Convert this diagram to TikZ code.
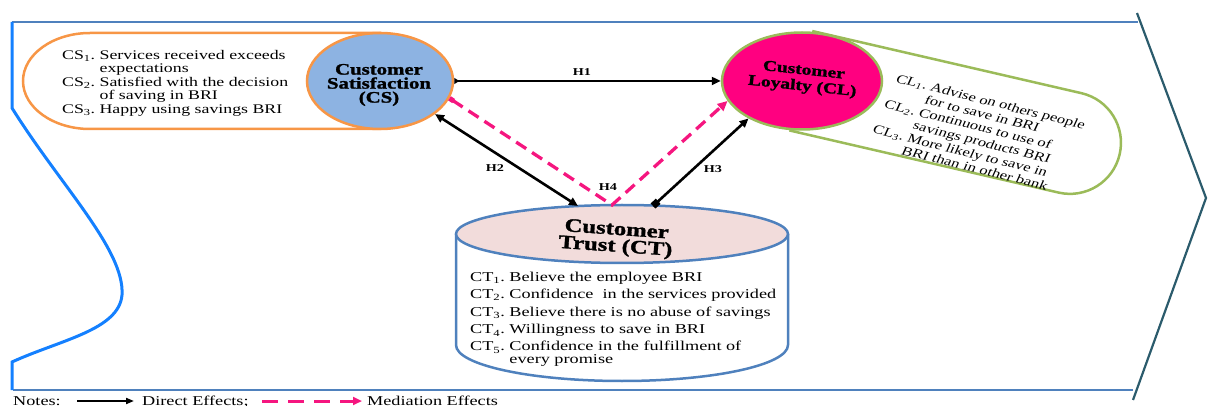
\documentclass[tikz,border=0pt]{standalone}
\usepackage{fontspec}
\setmainfont{Liberation Serif}[FakeStretch=1.35]
\newfontfamily\plainserif{Liberation Serif}
\newfontfamily\heavy{Liberation Serif Bold}[FakeStretch=1.3, FakeBold=1.5]
\usetikzlibrary{arrows.meta,shapes.geometric}
\definecolor{csblue}{HTML}{8DB3E2}
\definecolor{csorange}{HTML}{F79646}
\definecolor{clpink}{HTML}{FF0080}
\definecolor{clgreen}{HTML}{9BBB59}
\definecolor{ctpink}{HTML}{F2DCDB}
\definecolor{ctblue}{HTML}{4F81BD}
\definecolor{framebl}{HTML}{4F81BD}
\definecolor{leftbl}{HTML}{1480FF}
\definecolor{chevron}{HTML}{2B5B6C}
\definecolor{medpink}{HTML}{F5167F}
\begin{document}
\begin{tikzpicture}[x=1pt,y=-1pt,
  >={Triangle[length=9pt,width=8pt]},
  direct/.style={draw=black, line width=2.6pt},
  mediation/.style={draw=medpink, line width=3.3pt, dash pattern=on 12pt off 7pt},
  hlabel/.style={font=\fontsize{10.5}{12}\selectfont\bfseries, inner sep=0},
  headtxt/.style={font=\heavy\fontsize{16}{14}\selectfont, align=center, inner sep=0},
  listtxt/.style={inner sep=0, anchor=north west},
  legtxt/.style={font=\fontsize{13.5}{14}\selectfont, inner sep=0, anchor=base west},
  bubble/.style={ellipse, line width=2.5pt, inner sep=0}
]
\useasboundingbox (0,0) rectangle (1208,406);

% frame
\draw[framebl, line width=2pt] (12,22) -- (1138,22);
\draw[framebl, line width=2pt] (13,390) -- (1133,390);
\draw[leftbl, line width=3pt] (12,22) -- (12,108)
  .. controls (60,185) and (125,250) .. (122,295)
  .. controls (119,330) and (60,340) .. (12,362) -- (12,390);
\draw[chevron, line width=2.2pt] (1137,13) -- (1206,198) -- (1133,400);

% CS pill and bubble
\draw[csorange, line width=2.5pt, fill=white] (380,33) -- (90,33)
  .. controls (53,33) and (23,54.5) .. (23,81)
  .. controls (23,107.5) and (53,129) .. (90,129) -- (380,129) -- cycle;
\node[bubble, draw=csorange, fill=csblue, minimum width=146pt, minimum height=96pt] (CS) at (380,81) {};
\node[headtxt] (CSt) at (379,85) {Customer\\Satisfaction\\(CS)};
\node[listtxt, font=\fontsize{13.2}{13}\selectfont] (CSl) at (62,49.9) {%
\begin{tabular}{@{}l@{\ }l@{}}
CS\textsubscript{1}. & Services received exceeds\\
 & expectations\\[1pt]
CS\textsubscript{2}. & Satisfied with the decision\\
 & of saving in BRI\\[0.5pt]
CS\textsubscript{3}. & Happy using savings BRI
\end{tabular}};

% CL pill and bubble
\begin{scope}[shift={(802,81)}, rotate=-13]
\draw[clgreen, line width=2.5pt, fill=white] (0,-51) -- (275,-51)
  .. controls (303.2,-51) and (326,-28.2) .. (326,0)
  .. controls (326,28.2) and (303.2,51) .. (275,51) -- (0,51) -- cycle;
\end{scope}
\node[bubble, draw=clgreen, fill=clpink, minimum width=160pt, minimum height=97pt] (CL) at (802,81) {};
\node[headtxt, font=\heavy\fontsize{15}{16}\selectfont, rotate=-6] (CLt) at (803,79) {Customer\\Loyalty (CL)};
\begin{scope}[xscale=1.35]
\node[listtxt, rotate=-18.7, transform shape, font=\plainserif\fontsize{12.4}{13.4}\selectfont] (CLl) at (665.9,73) {%
\begin{tabular}{@{}l@{\ }l@{}}
CL\textsubscript{1}. & Advise on others people\\
 & for to save in BRI\\
CL\textsubscript{2}. & Continuous to use of\\
 & savings products BRI\\
CL\textsubscript{3}. & More likely to save in\\
 & BRI than in other bank
\end{tabular}};
\end{scope}

% CT cylinder
\draw[ctblue, line width=2.5pt, fill=white] (456,234) -- (456,345)
  .. controls (456,364.9) and (530.4,381) .. (622,381)
  .. controls (713.6,381) and (788,364.9) .. (788,345) -- (788,234);
\draw[ctblue, line width=2.5pt, fill=ctpink] (622,234) ellipse[x radius=166, y radius=29];
\node[headtxt, font=\heavy\fontsize{19}{17}\selectfont, rotate=-4] (CT) at (616,239) {Customer\\Trust (CT)};
\node[listtxt, font=\fontsize{13.5}{12}\selectfont] (CTl) at (470,271.6) {%
\begin{tabular}{@{}l@{\ }l@{}}
CT\textsubscript{1}. & Believe the employee BRI\\[4.5pt]
CT\textsubscript{2}. & Confidence\ \ in the services provided\\[4.5pt]
CT\textsubscript{3}. & Believe there is no abuse of savings\\[4.5pt]
CT\textsubscript{4}. & Willingness to save in BRI\\[4pt]
CT\textsubscript{5}. & Confidence in the fulfillment of\\
 & every promise
\end{tabular}};
\coordinate (ctH2) at (578,206);
\coordinate (ctH4) at (612,205);
\coordinate (ctH3) at (653,206);

% connectors
\draw[direct, {Triangle[reversed,length=5pt,width=6pt]}->] (CS.east) -- (CL.west);
\draw[direct, <->] (CS.-31) -- (ctH2);
\draw[direct, {Square[length=7pt,width=7pt]}->] (ctH3) -- (CL.215);
\draw[mediation, {Square[length=5pt,width=5pt]}-{Triangle[length=10pt,width=9pt]}] (CS.-14) -- (ctH4) -- (CL.195);

\node[hlabel] (H1) at (582,72) {H1};
\node[hlabel] (H2) at (495,168) {H2};
\node[hlabel] (H3) at (713,169) {H3};
\node[hlabel] (H4) at (608,187) {H4};

% legend
\node[legtxt] (notes) at (13,405) {Notes:};
\coordinate (d1) at (77,401);
\coordinate (d2) at (134,401);
\draw[line width=1.8pt, -{Triangle[length=8pt,width=6pt]}] (d1) -- (d2);
\node[legtxt] (direct) at (142,405) {Direct Effects;};
\coordinate (m1) at (262,401);
\coordinate (m2) at (362,401);
\draw[medpink, line width=3pt, dash pattern=on 16pt off 10pt, -{Triangle[length=9pt,width=8pt]}] (m1) -- (m2);
\node[legtxt] (med) at (367,405) {Mediation Effects};
\end{tikzpicture}
\end{document}
